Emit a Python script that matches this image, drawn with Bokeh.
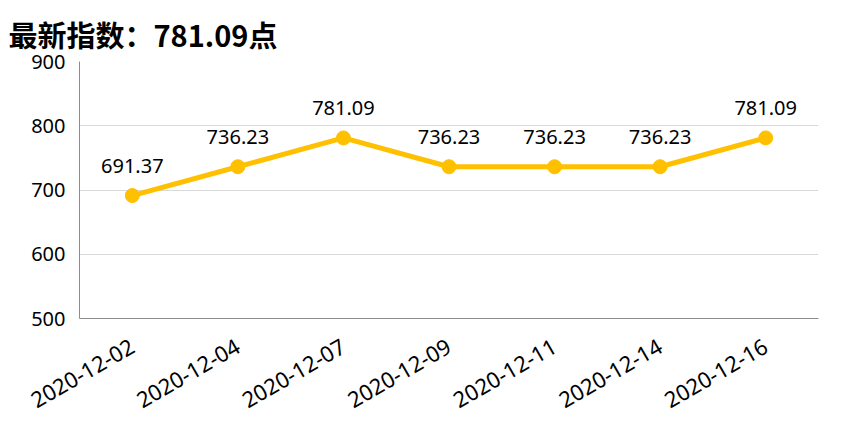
import math
from bokeh.plotting import figure
from bokeh.models import ColumnDataSource, FixedTicker, Range1d
from bokeh.core.properties import value
from bokeh.embed import file_html
from bokeh.resources import INLINE

dates = ["2020-12-02", "2020-12-04", "2020-12-07", "2020-12-09", "2020-12-11", "2020-12-14", "2020-12-16"]
values = [691.37, 736.23, 781.09, 736.23, 736.23, 736.23, 781.09]
labels = ["691.37", "736.23", "781.09", "736.23", "736.23", "736.23", "781.09"]
y_ticks = [500, 600, 700, 800, 900]
title_text = "最新指数：781.09点"

src = ColumnDataSource(dict(x=dates, y=values, t=labels))

p = figure(x_range=dates, y_range=Range1d(500, 900), width=846, height=431,
           output_backend="svg", toolbar_location=None,
           min_border_left=79, min_border_right=28, min_border_top=61, min_border_bottom=113)

p.title.text = title_text
p.title.text_font = "Noto Sans CJK SC"
p.title.text_font_size = "29px"
p.title.text_font_style = "bold"
p.title.text_color = "#000000"
p.title.align = "left"
p.title.offset = -71
p.title.standoff = 14

p.outline_line_color = None
p.xgrid.grid_line_color = None
p.ygrid.grid_line_color = "#d9d9d9"
p.ygrid.grid_line_width = 1

p.yaxis.ticker = FixedTicker(ticks=y_ticks)
for ax in (p.xaxis[0], p.yaxis[0]):
    ax.axis_line_color = "#8c8c8c"
    ax.axis_line_width = 1
    ax.major_tick_line_color = None
    ax.minor_tick_line_color = None
    ax.major_label_text_font = "Noto Sans"
    ax.major_label_text_color = "#000000"
p.yaxis.major_label_text_font_size = "20px"
p.xaxis.major_label_text_font_size = "22px"
p.yaxis.major_label_standoff = 8
p.xaxis.major_label_orientation = math.pi / 6
p.xaxis.major_label_standoff = 20

p.line("x", "y", source=src, line_color="#FFC000", line_width=5)
p.scatter("x", "y", source=src, size=14, fill_color="#FFC000", line_color="#FFC000")
p.text("x", "y", text="t", source=src, text_align="center", text_baseline="alphabetic",
       y_offset=-30, text_font=value("Noto Sans"), text_font_size="20px", text_color="#000000")

open("out.html", "w").write(file_html(p, INLINE))
